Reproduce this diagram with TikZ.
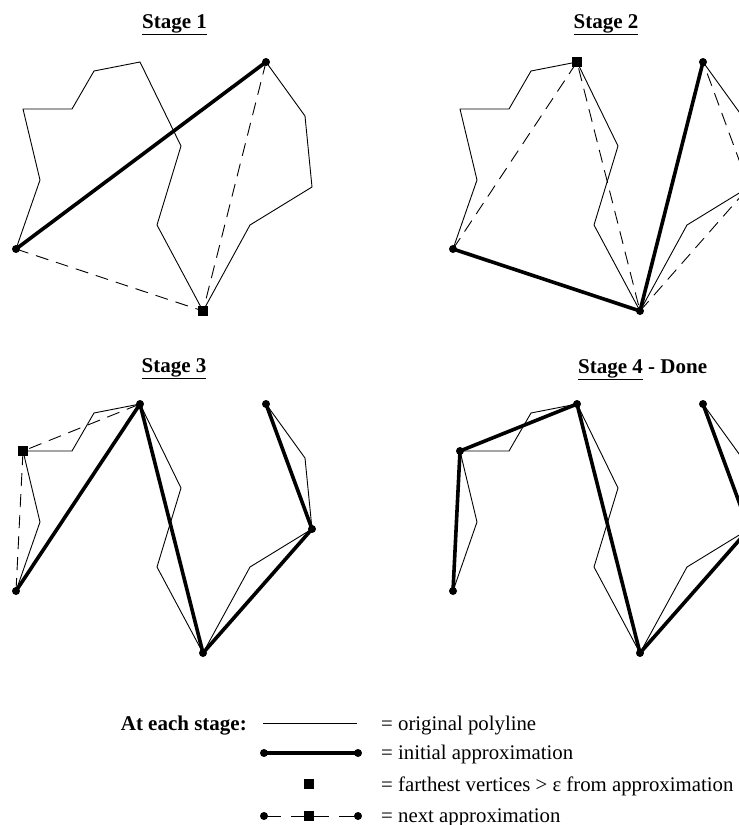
\documentclass[tikz,border=0pt]{standalone}
\usepackage{fontspec}
\setmainfont{Liberation Serif}
\tikzset{
  orig/.style={line width=0.9pt, line join=round},
  approx/.style={line width=3.6pt, line cap=round, line join=round},
  nextapprox/.style={line width=0.9pt, dash pattern=on 13pt off 8pt},
  vdot/.style={circle, fill=black, inner sep=0pt, minimum size=8pt},
  vsq/.style={rectangle, fill=black, inner sep=0pt, minimum size=10pt},
  stitle/.style={font=\fontsize{21}{25}\selectfont\bfseries, inner sep=0pt},
  legtext/.style={font=\fontsize{20.8}{25}\selectfont, inner sep=0pt, anchor=base west},
}
\begin{document}
\begin{tikzpicture}[x=1pt, y=-1pt]
\useasboundingbox (0,0) rectangle (739,825);
\clip (0,0) rectangle (739,825);
% vertices of the polyline, one copy per stage
\foreach \s/\dx/\dy in {1/0/0,2/437/0,3/0/342,4/437/342}{
  \foreach \i/\x/\y in {0/16/249,1/40/180,2/23/109,3/72/109,4/94/71,5/140/62,
                        6/181/146,7/157/225,8/203/311,9/250/225,10/312/187,
                        11/305/116,12/266/62}{
    \coordinate (s\s p\i) at ({\x+\dx},{\y+\dy});
  }
}
% titles
\node[stitle, anchor=base] (t1) at (174.5,28) {\underline{Stage 1}};
\node[stitle, anchor=base] (t2) at (606,28) {\underline{Stage 2}};
\node[stitle, anchor=base] (t3) at (174,372) {\underline{Stage 3}};
\node[stitle, anchor=base west] (t4) at (578,373) {\underline{Stage 4} - Done};
% original polylines
\foreach \s in {1,...,4}{
  \draw[orig] (s\s p0) \foreach \i in {1,...,12}{ -- (s\s p\i)};
}
% Stage 1
\draw[nextapprox] (s1p0) -- (s1p8) -- (s1p12);
\draw[approx] (s1p0) -- (s1p12);
\node[vdot] (m1a) at (s1p0) {};
\node[vdot] (m1b) at (s1p12) {};
\node[vsq] (q1a) at (s1p8) {};
% Stage 2
\draw[nextapprox] (s2p0) -- (s2p5) -- (s2p8);
\draw[nextapprox] (s2p8) -- (s2p10) -- (s2p12);
\draw[approx] (s2p0) -- (s2p8) -- (s2p12);
\node[vdot] (m2a) at (s2p0) {};
\node[vdot] (m2b) at (s2p8) {};
\node[vdot] (m2c) at (s2p12) {};
\node[vsq] (q2a) at (s2p5) {};
\node[vsq] (q2b) at (s2p10) {};
% Stage 3
\draw[nextapprox] (s3p0) -- (s3p2) -- (s3p5);
\draw[approx] (s3p0) -- (s3p5) -- (s3p8) -- (s3p10) -- (s3p12);
\node[vdot] (m3a) at (s3p0) {};
\node[vdot] (m3b) at (s3p5) {};
\node[vdot] (m3c) at (s3p8) {};
\node[vdot] (m3d) at (s3p10) {};
\node[vdot] (m3e) at (s3p12) {};
\node[vsq] (q3a) at (s3p2) {};
% Stage 4
\draw[approx] (s4p0) -- (s4p2) -- (s4p5) -- (s4p8) -- (s4p10) -- (s4p12);
\node[vdot] (m4a) at (s4p0) {};
\node[vdot] (m4b) at (s4p2) {};
\node[vdot] (m4c) at (s4p5) {};
\node[vdot] (m4d) at (s4p8) {};
\node[vdot] (m4e) at (s4p10) {};
\node[vdot] (m4f) at (s4p12) {};
% legend
\node[stitle, anchor=base east] (leg) at (247,730) {At each stage:};
\coordinate (l1a) at (263,723); \coordinate (l1b) at (357,723);
\draw[orig] (l1a) -- (l1b);
\coordinate (l2a) at (264,753); \coordinate (l2b) at (358,753);
\draw[approx] (l2a) -- (l2b);
\node[vdot] (ld1) at (l2a) {};
\node[vdot] (ld2) at (l2b) {};
\node[vsq] (lq1) at (309,784) {};
\coordinate (l4a) at (264,816); \coordinate (l4b) at (358,816);
\draw[line width=0.9pt, dash pattern=on 17pt off 10pt on 38pt off 10pt on 30pt] (l4a) -- (l4b);
\node[vdot] (ld3) at (l4a) {};
\node[vdot] (ld4) at (l4b) {};
\node[vsq] (lq2) at (309,816) {};
\node[legtext] (e1) at (381,730) {= original polyline};
\node[legtext] (e2) at (381,759) {= initial approximation};
\node[legtext] (e3) at (381,791) {= farthest vertices > ε from approximation};
\node[legtext] (e4) at (381,822) {= next approximation};
\end{tikzpicture}
\end{document}
